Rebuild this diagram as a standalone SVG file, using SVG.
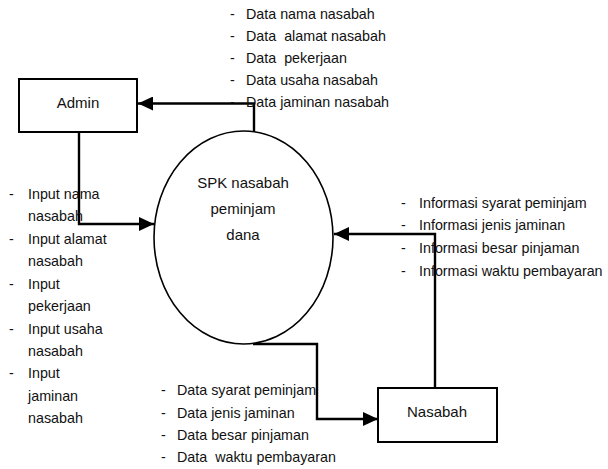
<svg xmlns="http://www.w3.org/2000/svg" width="608" height="469" viewBox="0 0 608 469">
<style>
.box{fill:#fff;stroke:#000;stroke-width:2}
.proc{fill:#fff;stroke:#000;stroke-width:1.6}
.conn{fill:none;stroke:#000;stroke-width:2.4}
.lbl{font-family:"Liberation Sans",Arial,sans-serif;font-size:14.3px;fill:#111;white-space:pre}
.nm{font-family:"Liberation Sans",Arial,sans-serif;font-size:15px;fill:#111;text-anchor:middle}
</style>
<defs>
<marker id="ah" markerUnits="userSpaceOnUse" markerWidth="16" markerHeight="14" refX="15" refY="7" orient="auto">
<path d="M0,0 L15,7 L0,14 z" fill="#000"/>
</marker>
</defs>
<g id="admin">
<rect class="box" x="19" y="79" width="118" height="53"/>
<text class="nm" x="78" y="108">Admin</text>
</g>
<g id="spk">
<ellipse class="proc" cx="243.5" cy="237.5" rx="89.5" ry="106.5"/>
<text class="nm" x="243" y="188">SPK nasabah</text>
<text class="nm" x="243" y="214">peminjam</text>
<text class="nm" x="243" y="240">dana</text>
</g>
<g id="nasabah">
<rect class="box" x="378" y="388" width="119" height="54"/>
<text class="nm" x="437" y="417">Nasabah</text>
</g>
<g id="connectors">
<path class="conn" d="M254,132 V103.5 H138" marker-end="url(#ah)"/>
<path class="conn" d="M79,132 V224 H154" marker-end="url(#ah)"/>
<path class="conn" d="M435,388 V234 H334" marker-end="url(#ah)"/>
<path class="conn" d="M253,344 H317 V419 H378" marker-end="url(#ah)"/>
</g>
<g id="labels">
<g class="lbl">
<text x="230" y="19">-</text><text x="246" y="19">Data nama nasabah</text>
<text x="230" y="41">-</text><text x="246" y="41" xml:space="preserve">Data  alamat nasabah</text>
<text x="230" y="63">-</text><text x="246" y="63" xml:space="preserve">Data  pekerjaan</text>
<text x="230" y="85">-</text><text x="246" y="85">Data usaha nasabah</text>
<text x="230" y="107">-</text><text x="246" y="107">Data jaminan nasabah</text>
</g>
<g class="lbl">
<text x="9" y="199">-</text><text x="28" y="199">Input nama</text>
<text x="28" y="221">nasabah</text>
<text x="9" y="244">-</text><text x="28" y="244">Input alamat</text>
<text x="28" y="266">nasabah</text>
<text x="9" y="289">-</text><text x="28" y="289">Input</text>
<text x="28" y="311">pekerjaan</text>
<text x="9" y="334">-</text><text x="28" y="334">Input usaha</text>
<text x="28" y="356">nasabah</text>
<text x="9" y="378">-</text><text x="28" y="378">Input</text>
<text x="28" y="401">jaminan</text>
<text x="28" y="423">nasabah</text>
</g>
<g class="lbl">
<text x="401" y="208">-</text><text x="419" y="208">Informasi syarat peminjam</text>
<text x="401" y="230">-</text><text x="419" y="230">Informasi jenis jaminan</text>
<text x="401" y="253">-</text><text x="419" y="253">Informasi besar pinjaman</text>
<text x="401" y="276">-</text><text x="419" y="276">Informasi waktu pembayaran</text>
</g>
<g class="lbl">
<text x="161" y="395">-</text><text x="177" y="395">Data syarat peminjam</text>
<text x="161" y="418">-</text><text x="177" y="418">Data jenis jaminan</text>
<text x="161" y="440">-</text><text x="177" y="440">Data besar pinjaman</text>
<text x="161" y="462">-</text><text x="177" y="462" xml:space="preserve">Data  waktu pembayaran</text>
</g>
</g>
</svg>
